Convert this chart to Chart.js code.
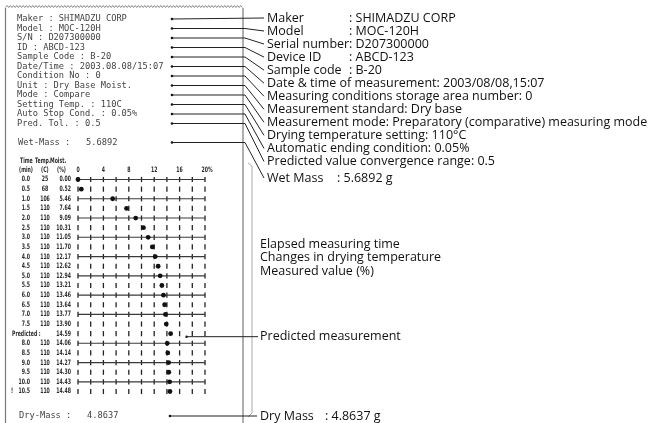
<!DOCTYPE html>
<html>
<head>
<meta charset="utf-8">
<script src="https://cdn.jsdelivr.net/npm/chart.js@4/dist/chart.umd.min.js"></script>
<style>
  html, body { margin: 0; padding: 0; background: #fff; }
  canvas { display: block; }
</style>
</head>
<body>
<canvas id="chart" width="649" height="423"></canvas>
<script>
// printout rows
const timeLabels = ['0.0', '0.5', '1.0', '1.5', '2.0', '2.5', '3.0', '3.5', '4.0', '4.5', '5.0', '5.5',
  '6.0', '6.5', '7.0', '7.5', 'Predicted :', '8.0', '8.5', '9.0', '9.5', '10.0', '10.5'];
const tempValues = [25, 68, 106, 110, 110, 110, 110, 110, 110, 110, 110, 110,
  110, 110, 110, 110, null, 110, 110, 110, 110, 110, 110];
const moistValues = [0.00, 0.52, 5.46, 7.64, 9.09, 10.31, 11.05, 11.70, 12.17, 12.62, 12.94, 13.21,
  13.46, 13.64, 13.77, 13.90, 14.59, 14.06, 14.14, 14.27, 14.30, 14.43, 14.48];
const gridValues = [0, 2, 4, 6, 8, 10, 12, 14, 16, 18, 20];
const axisValues = [0, 4, 8, 12, 16, 20];
const axisLabels = ['0', '4', '8', '12', '16', '20%'];
const endMark = '!';

// printout header
const printHeader = ['Maker : SHIMADZU CORP', 'Model : MOC-120H', 'S/N : D207300000', 'ID : ABCD-123',
  'Sample Code : B-20', 'Date/Time : 2003.08.08/15:07', 'Condition No : 0', 'Unit : Dry Base Moist.',
  'Mode : Compare', 'Setting Temp. : 110C', 'Auto Stop Cond. : 0.05%', 'Pred. Tol. : 0.5'];
const wetMass = '5.6892';
const dryMass = '4.8637';

// callouts on the right
const calloutNames = ['Maker', 'Model', 'Serial number', 'Device ID', 'Sample code'];
const calloutValues = ['SHIMADZU CORP', 'MOC-120H', 'D207300000', 'ABCD-123', 'B-20'];
const calloutLines = ['Date & time of measurement: 2003/08/08,15:07',
  'Measuring conditions storage area number: 0',
  'Measurement standard: Dry base',
  'Measurement mode: Preparatory (comparative) measuring mode',
  'Drying temperature setting: 110\u00B0C',
  'Automatic ending condition: 0.05%',
  'Predicted value convergence range: 0.5'];
const columnNotes = ['Elapsed measuring time', 'Changes in drying temperature', 'Measured value (%)'];

const MONO = '"DejaVu Sans Mono", monospace';
const TINY = 'bold 7.5px "DejaVu Sans", sans-serif';
const LABEL = '12.5px "Open Sans", sans-serif';

function dot(ctx, x, y, r) {
  ctx.beginPath();
  ctx.arc(x, y, r, 0, Math.PI * 2);
  ctx.fill();
}

function line(ctx, pts) {
  ctx.beginPath();
  ctx.moveTo(pts[0][0], pts[0][1]);
  for (let i = 1; i < pts.length; i++) ctx.lineTo(pts[i][0], pts[i][1]);
  ctx.stroke();
}

// the printer's narrow digits
function tiny(ctx, s, x, y, align) {
  ctx.save();
  ctx.translate(x, y);
  ctx.scale(0.62, 1);
  ctx.font = TINY;
  ctx.textAlign = align || 'left';
  ctx.textBaseline = 'middle';
  ctx.fillText(s, 0, 0);
  ctx.restore();
}

const printout = {
  id: 'printout',
  beforeDatasetsDraw(chart) {
    const ctx = chart.ctx;
    const xs = chart.scales.x, ys = chart.scales.y;
    ctx.save();

    // paper edges
    ctx.strokeStyle = '#7a7a7a';
    ctx.lineWidth = 1.2;
    line(ctx, [[5.5, 8], [5.5, 423]]);
    line(ctx, [[243, 8], [243, 423]]);
    ctx.lineWidth = 0.9;
    ctx.beginPath();
    for (let x = 5.5, k = 0; x <= 243; x += 1.6, k++) {
      const y = k % 2 ? 5.5 : 7.5;
      if (k === 0) ctx.moveTo(x, y); else ctx.lineTo(x, y);
    }
    ctx.stroke();

    // bracket beside the table
    ctx.strokeStyle = '#a8a8a8';
    ctx.lineWidth = 1;
    line(ctx, [[248, 163], [252, 166], [252, 413], [248, 417]]);

    // header text of the printout
    ctx.fillStyle = '#444';
    ctx.font = '8.7px ' + MONO;
    ctx.textBaseline = 'middle';
    ctx.textAlign = 'left';
    printHeader.forEach((t, i) => ctx.fillText(t, 17, 19 + 9.5 * i));
    ctx.fillText('Wet-Mass :   ' + wetMass, 18, 142.5);
    ctx.fillText('Dry-Mass :   ' + dryMass, 19, 416);

    // table headings
    ctx.fillStyle = '#2a2a2a';
    tiny(ctx, 'Time', 20, 161);
    tiny(ctx, 'Temp.', 35, 161);
    tiny(ctx, 'Moist.', 50, 161);
    tiny(ctx, '(min)', 19, 170.5);
    tiny(ctx, '(C)', 41, 170.5);
    tiny(ctx, '(%)', 57, 170.5);
    axisValues.forEach((v, i) => {
      tiny(ctx, axisLabels[i], xs.getPixelForValue(v) + (i === axisValues.length - 1 ? 2 : 0), 170.5, 'center');
    });

    // rows
    moistValues.forEach((m, i) => {
      const y = ys.getPixelForValue(i);
      ctx.fillStyle = '#2a2a2a';
      if (tempValues[i] === null) {
        tiny(ctx, timeLabels[i], 12, y);
      } else {
        tiny(ctx, timeLabels[i], 30, y, 'right');
        tiny(ctx, String(tempValues[i]), 45, y, 'center');
      }
      tiny(ctx, m.toFixed(2), 71, y, 'right');
      if (i === moistValues.length - 1) tiny(ctx, endMark, 11, y);
      ctx.strokeStyle = '#222';
      ctx.lineWidth = 1.3;
      gridValues.forEach(v => {
        const x = xs.getPixelForValue(v);
        line(ctx, [[x, y - 2.6], [x, y + 2.6]]);
      });
      if (/\.0$/.test(timeLabels[i])) {
        ctx.lineWidth = 1.1;
        ctx.strokeStyle = '#3a3a3a';
        line(ctx, [[xs.getPixelForValue(0), y], [xs.getPixelForValue(20), y]]);
      }
    });

    // leader lines
    ctx.strokeStyle = '#222';
    ctx.fillStyle = '#111';
    ctx.lineWidth = 1;
    const labelY = i => (i === 0 ? 18 : 31 + 13.05 * (i - 1));
    printHeader.forEach((t, i) => {
      const y = 19 + 9.5 * i;
      dot(ctx, 172, y, 1.3);
      if (i === 0) line(ctx, [[172, y], [264, labelY(i)]]);
      else line(ctx, [[172, y], [245, y], [264, labelY(i)]]);
    });
    dot(ctx, 172, 142.5, 1.3);
    line(ctx, [[172, 142.5], [245, 142.5], [264, 178]]);
    const py = ys.getPixelForValue(timeLabels.indexOf('Predicted :')) + 3;
    dot(ctx, xs.getPixelForValue(17.1), py, 1.2);
    line(ctx, [[xs.getPixelForValue(17.1), py], [258, py]]);
    dot(ctx, 170, 416, 1.3);
    line(ctx, [[170, 416], [257, 416]]);

    // callout text
    ctx.fillStyle = '#111';
    ctx.font = LABEL;
    ctx.textAlign = 'left';
    ctx.textBaseline = 'middle';
    calloutNames.forEach((n, i) => {
      ctx.fillText(n, 267, labelY(i));
      ctx.fillText(': ' + calloutValues[i], 349, labelY(i));
    });
    calloutLines.forEach((t, k) => ctx.fillText(t, 267, labelY(k + calloutNames.length)));
    ctx.fillText('Wet Mass', 267, 178);
    ctx.fillText(': ' + wetMass + ' g', 337, 178);
    columnNotes.forEach((t, k) => ctx.fillText(t, 260, 244 + 13.5 * k));
    ctx.fillText('Predicted measurement', 260, py);
    ctx.fillText('Dry Mass', 260, 416);
    ctx.fillText(': ' + dryMass + ' g', 325, 416);

    ctx.restore();
  }
};

new Chart(document.getElementById('chart'), {
  type: 'scatter',
  data: {
    datasets: [{
      data: moistValues.map((m, i) => ({ x: m, y: i })),
      pointRadius: 2.4,
      pointHoverRadius: 2.4,
      pointBackgroundColor: '#111',
      pointBorderWidth: 0,
      clip: false
    }]
  },
  options: {
    responsive: false,
    animation: false,
    devicePixelRatio: 1,
    layout: { padding: { left: 78, right: 444, top: 179.5, bottom: 31.5 } },
    scales: {
      x: { type: 'linear', min: 0, max: 20, display: false },
      y: { type: 'linear', min: 0, max: 22, reverse: true, display: false }
    },
    plugins: { legend: { display: false }, tooltip: { enabled: false } }
  },
  plugins: [printout]
});
</script>
</body>
</html>
